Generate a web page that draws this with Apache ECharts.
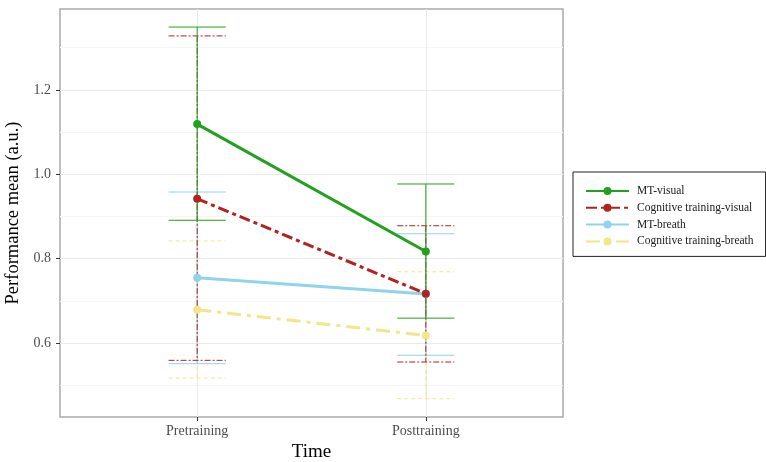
<!DOCTYPE html>
<html>
<head>
<meta charset="utf-8">
<script src="https://cdn.jsdelivr.net/npm/echarts@6/dist/echarts.min.js"></script>
<style>html,body{margin:0;padding:0;background:#fff}#c{width:766px;height:462px}</style>
</head>
<body>
<div id="c"></div>
<script>
// ---- data ----
var timePoints = ['Pretraining', 'Posttraining'];
var timeX = [1, 2];
var groupNames = ['MT-visual', 'Cognitive training-visual', 'MT-breath', 'Cognitive training-breath'];
var mtVisualMean = [1.119, 0.817];
var mtVisualLow = [0.891, 0.659];
var mtVisualHigh = [1.349, 0.977];
var cogVisualMean = [0.942, 0.717];
var cogVisualLow = [0.559, 0.555];
var cogVisualHigh = [1.328, 0.878];
var mtBreathMean = [0.755, 0.716];
var mtBreathLow = [0.551, 0.571];
var mtBreathHigh = [0.958, 0.859];
var cogBreathMean = [0.679, 0.618];
var cogBreathLow = [0.517, 0.468];
var cogBreathHigh = [0.842, 0.769];
var yMajorTicks = [0.6, 0.8, 1.0, 1.2];
var yMinorTicks = [0.5, 0.7, 0.9, 1.1, 1.3];

// ---- styling ----
var colors = ['#22a11c', '#b2221e', '#8fd3ee', '#f2e688'];
var lineDash = ['solid', [11, 4, 4, 4], 'solid', [14, 6, 4, 6]];
var barDash = [null, [6, 2, 2, 2], null, [4, 3]];
var serif = '"Liberation Serif", "DejaVu Serif", serif';

var means = [mtVisualMean, cogVisualMean, mtBreathMean, cogBreathMean];
var lows = [mtVisualLow, cogVisualLow, mtBreathLow, cogBreathLow];
var highs = [mtVisualHigh, cogVisualHigh, mtBreathHigh, cogBreathHigh];

var series = [];
var barOrder = [3, 2, 1, 0];
var lineOrder = [2, 3, 0, 1];
// error bars first
barOrder.forEach(function (g, k) {
  var d = timeX.map(function (x, i) { return [x, lows[g][i], highs[g][i]]; });
  series.push({
    type: 'custom',
    name: 'eb-' + g,
    z: 2,
    zlevel: 0,
    silent: true,
    data: d,
    renderItem: function (params, api) {
      var x = api.value(0), lo = api.value(1), hi = api.value(2);
      var top = api.coord([x, hi]), bot = api.coord([x, lo]);
      var tl = api.coord([x - 0.125, hi]), tr = api.coord([x + 0.125, hi]);
      var bl = api.coord([x - 0.125, lo]), br = api.coord([x + 0.125, lo]);
      var st = { stroke: colors[g], lineWidth: 1, lineDash: barDash[g] };
      return {
        type: 'group',
        children: [
          { type: 'line', z2: k, shape: { x1: top[0], y1: top[1], x2: bot[0], y2: bot[1] }, style: st },
          { type: 'line', z2: k, shape: { x1: tl[0], y1: tl[1], x2: tr[0], y2: tr[1] }, style: st },
          { type: 'line', z2: k, shape: { x1: bl[0], y1: bl[1], x2: br[0], y2: br[1] }, style: st }
        ]
      };
    }
  });
});
// mean lines
[0, 1, 2, 3].forEach(function (g) {
  series.push({
    type: 'line',
    name: groupNames[g],
    z: 3 + lineOrder.indexOf(g),
    data: timeX.map(function (x, i) { return [x, means[g][i]]; }),
    symbol: 'circle',
    symbolSize: 8,
    showSymbol: true,
    animation: false,
    itemStyle: { color: colors[g] },
    lineStyle: { color: colors[g], width: 3, type: lineDash[g] }
  });
});

var chart = echarts.init(document.getElementById('c'), null, { renderer: 'canvas' });
chart.setOption({
  animation: false,
  backgroundColor: '#fff',
  grid: { left: 60, top: 9, right: 203, bottom: 45, outerBoundsMode: 'none', containLabel: false,
    show: true, borderColor: '#aaaaaa', borderWidth: 1.5, backgroundColor: 'transparent' },
  legend: {
    data: groupNames,
    orient: 'vertical',
    left: 573, top: 172,
    padding: [13, 12, 9, 12],
    itemGap: 4.8,
    itemWidth: 43,
    itemHeight: 10,
    borderColor: '#222',
    borderWidth: 1,
    textStyle: { fontFamily: serif, fontSize: 11.5, color: '#1a1a1a', padding: [0, 0, 0, 3] }
  },
  xAxis: {
    type: 'value',
    min: 0.4, max: 2.6,
    name: 'Time', nameLocation: 'middle', nameGap: 26,
    nameTextStyle: { fontFamily: serif, fontSize: 19, color: '#000' },
    axisLine: { show: false },
    axisTick: { show: true, length: 4, customValues: timeX, lineStyle: { color: '#333' } },
    axisLabel: { customValues: timeX, margin: 7, fontFamily: serif, fontSize: 14, color: '#4d4d4d',
      formatter: function (v) { return timePoints[timeX.indexOf(Math.round(v))] || ''; } },
    splitLine: { show: true, lineStyle: { color: '#ebebeb', width: 1 } }
  },
  yAxis: [{
    type: 'value',
    min: 0.4247, max: 1.3918,
    name: 'Performance mean (a.u.)', nameLocation: 'middle', nameGap: 29,
    nameTextStyle: { fontFamily: serif, fontSize: 18.5, color: '#000' },
    axisLine: { show: false },
    axisTick: { show: true, length: 4, customValues: yMajorTicks, lineStyle: { color: '#333' } },
    axisLabel: { customValues: yMajorTicks, margin: 9, fontFamily: serif, fontSize: 14, color: '#4d4d4d',
      formatter: function (v) { return v.toFixed(1); } },
    splitLine: { show: true, lineStyle: { color: '#ebebeb', width: 1 } }
  }, {
    type: 'value',
    min: 0.4247, max: 1.3918,
    position: 'left',
    axisLine: { show: false },
    axisTick: { show: false, customValues: yMinorTicks },
    axisLabel: { show: false, customValues: yMinorTicks },
    splitLine: { show: true, lineStyle: { color: '#f5f5f5', width: 1 } }
  }],
  series: series
});
</script>
</body>
</html>
